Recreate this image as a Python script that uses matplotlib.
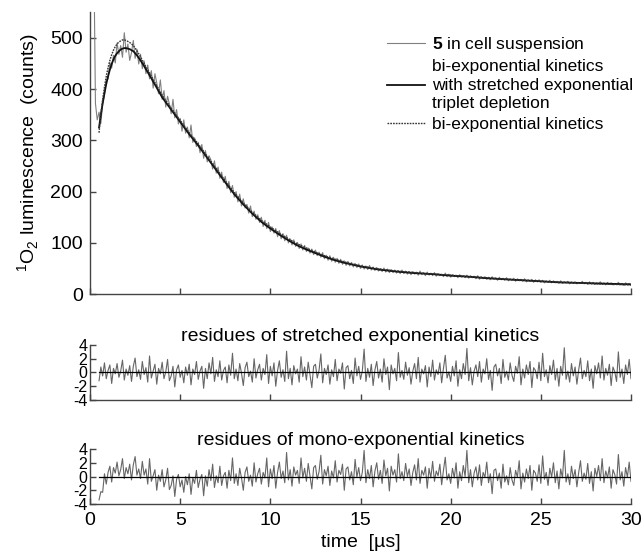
import numpy as np
import matplotlib
matplotlib.use("Agg")
import matplotlib.pyplot as plt

plt.rcParams['font.family'] = ['Liberation Sans', 'DejaVu Sans']
plt.rcParams['mathtext.fontset'] = 'custom'
plt.rcParams['mathtext.rm'] = 'Liberation Sans'
plt.rcParams['mathtext.bf'] = 'Liberation Sans:bold'
plt.rcParams['axes.unicode_minus'] = False

# measured luminescence, 0.1 us steps starting at 0.2 us
data_t0 = 0.2
data_dt = 0.1
counts = [
    700, 372, 340, 355, 333, 372,
    388, 418, 420, 452, 441, 466, 451, 490, 468, 485,
    462, 510, 472, 488, 456, 471, 495, 460, 478, 449,
    468, 440, 455, 430, 447, 420, 436, 402, 430, 412,
    391, 418, 380, 397, 365, 386, 371, 352, 380, 344,
    360, 332, 343, 318, 340, 314, 326, 305, 330, 296,
    305, 288, 296, 276, 292, 265, 280, 258, 270, 262,
    244, 260, 236, 248, 226, 238, 218, 230, 206, 220,
    198, 212, 189, 200, 180, 195, 172, 186, 168, 175,
    158, 172, 151, 162, 146, 155, 140, 150, 132, 144,
    128, 140, 122, 131, 119, 128, 112, 124, 108, 118,
    104, 115, 100, 108, 96, 106, 93, 101, 89, 98,
    86, 95, 83, 90, 80, 88, 77, 86, 75, 82,
    72, 81, 69, 76, 66, 75, 64, 72, 62, 70,
    60, 68, 58, 65, 56, 64, 55, 62, 53, 60,
    52, 59, 50, 57, 49, 55, 48, 56, 47, 53,
    46, 52, 45, 50, 44, 51, 43, 49, 42, 48,
    42, 47, 41, 46, 40, 47, 40, 45, 39, 44,
    38, 44, 39, 43, 37, 45, 38, 42, 36, 43,
    37, 41, 36, 42, 35, 40, 36, 39, 34, 41,
    34, 39, 33, 38, 34, 37, 32, 38, 33, 36,
    32, 37, 31, 36, 32, 35, 30, 36, 29, 34,
    30, 34, 29, 33, 28, 34, 29, 32, 27, 33,
    28, 31, 27, 32, 26, 30, 27, 31, 25, 30,
    26, 29, 25, 30, 24, 28, 25, 29, 23, 28,
    24, 28, 23, 27, 22, 26, 23, 27, 22, 26,
    22, 25, 21, 26, 21, 24, 22, 25, 20, 24,
    21, 24, 20, 23, 21, 25, 20, 23, 19, 24,
    20, 23, 19, 22, 20, 24, 19, 22, 18, 23,
    19, 22, 18, 21, 19, 23, 18, 21, 17, 22,
    19, 21, 18]

# fitted curves
fit_t = [0.5, 0.6, 0.7, 0.8, 0.9, 1.0, 1.1, 1.2, 1.3, 1.4, 1.5, 1.6, 1.7, 1.8, 1.9, 2.0,
         2.2, 2.4, 2.6, 2.8, 3.0,
         3.5, 4.0, 4.5, 5.0, 5.5, 6.0, 6.5, 7.0, 7.5, 8.0, 8.5, 9.0, 9.5, 10.0, 10.5,
         11.0, 11.5, 12.0, 12.5, 13.0, 13.5, 14.0, 14.5, 15.0,
         16, 17, 18, 19, 20, 21, 22, 23, 24, 25, 26, 27, 28, 29, 30]
fit_stretched = [325, 350, 372, 392, 410, 425, 438, 449, 458, 465, 470, 474, 477, 479, 480, 480,
                 478, 474, 466, 456, 445,
                 415, 384, 360, 336, 312, 290, 266, 242, 218, 195, 175, 157, 141, 128, 116,
                 105, 95, 87, 80, 73, 67, 62, 58, 54,
                 48, 44, 41, 39, 36, 34, 31, 29, 27, 25, 23, 22, 21, 20, 19]
fit_biexp = [315, 352, 380, 404, 425, 442, 456, 467, 476, 483, 488, 492, 494, 496, 496, 495,
             491, 485, 475, 463, 450,
             419, 388, 363, 339, 315, 293, 269, 245, 221, 198, 178, 160, 144, 131, 119,
             108, 98, 90, 82, 75, 69, 64, 59, 55,
             49, 45, 42, 39, 37, 34, 32, 29, 27, 25, 23, 22, 20, 19, 18]

# weighted residues, 0.1 us steps starting at 0.5 us
res_t0 = 0.5
res_stretched = [
    -1.2, 0.8, -0.5, 1.4, -0.9, 0.3, 1.1, -1.6, 0.6, -0.2,
    1.3, -0.7, 0.2, 1.8, -1.1, 0.5, -0.4, 1.0, -1.3, 0.9,
    2.1, -0.6, 0.4, -1.0, 1.6, -0.3, 0.7, -1.4, 2.4, -0.8,
    0.2, 1.2, -1.7, 0.6, -0.2, 1.5, -0.9, 0.1, 1.9, -1.2,
    -0.5, 0.9, -2.1, 0.4, 1.1, -0.7, 0.3, -1.5, 0.8, -0.4,
    1.2, -1.8, 0.5, -0.3, 1.6, -1.0, 0.2, 0.9, -2.3, 0.6,
    -0.9, 1.4, -0.2, 2.2, -1.3, 0.4, -0.6, 1.7, -1.1, 0.3,
    0.8, -1.5, 1.1, -0.4, 2.8, -0.9, 0.5, -1.2, 1.3, -0.1,
    -1.9, 0.7, 1.5, -0.6, 0.2, -1.4, 2.0, -0.8, 0.4, 1.2,
    -1.1, 0.6, -0.3, 2.6, -1.6, 0.9, -0.5, 1.4, -2.0, 0.3,
    1.7, -0.7, 0.4, -1.3, 3.1, -0.9, 0.6, -1.8, 1.0, -0.2,
    0.5, -1.4, 2.3, -0.6, 0.8, -1.1, 1.5, -0.4, -2.2, 0.9,
    1.2, -0.8, 0.3, 2.7, -1.5, 0.6, -0.3, 1.1, -1.7, 0.4,
    -0.6, 1.9, -1.2, 0.5, -0.1, 1.4, -2.4, 0.7, 1.0, -0.9,
    0.3, -1.6, 2.1, -0.5, 0.9, -1.0, 0.2, 3.4, -1.3, 0.6,
    -0.7, 1.2, -1.9, 0.4, 1.6, -0.8, 0.5, -1.4, 2.0, -0.3,
    0.8, -2.5, 1.1, -0.2, 0.6, -1.2, 2.9, -0.7, 0.3, -1.0,
    1.5, -0.4, 0.7, -1.7, 0.2, 1.3, -0.9, 2.2, -1.4, 0.5,
    -0.2, 1.0, -2.1, 0.8, -0.6, 1.8, -1.1, 0.4, -0.3, 1.4,
    -1.5, 0.6, 2.5, -0.8, 0.1, -1.3, 0.9, -0.5, 1.7, -2.0,
    0.4, -0.9, 1.3, -0.3, 3.5, -1.2, 0.7, -1.8, 0.2, 1.1,
    -0.6, 1.6, -1.4, 0.5, -0.2, 2.0, -1.0, 0.3, -2.6, 0.8,
    1.2, -0.5, 0.6, -1.6, 1.9, -0.7, 0.2, -1.1, 1.4, -0.4,
    -1.3, 0.9, -0.1, 2.3, -1.8, 0.5, -0.8, 1.1, -0.3, 1.6,
    -2.2, 0.7, 0.3, -0.9, 1.5, -1.2, 2.8, -0.6, 0.4, -1.5,
    1.0, -0.3, 1.8, -1.1, 0.6, -2.0, 0.9, -0.4, 3.6, -1.0,
    0.2, -1.4, 1.3, -0.5, 0.8, -1.7, 0.4, 2.1, -0.9, 0.3,
    -0.6, 1.7, -1.2, 0.5, -2.3, 1.0, -0.2, 1.4, -0.8, 2.4,
    -1.1, 0.6, -0.4, 1.2, -1.9, 0.8, 0.1, -1.3, 3.0, -0.7,
    0.5, -1.6, 1.1, -0.3, 1.9, -0.9]
res_mono = [
    -3.4, -2.2, -2.3, 0.4, -1.1, 0.6, 1.5, -0.8, 1.3, 0.5,
    2.1, 0.1, 1.0, 2.6, -0.3, 1.3, 0.4, 1.8, -0.5, 1.7,
    2.9, 0.2, 1.1, -0.3, 2.2, 0.2, 1.1, -1.1, 2.6, -0.7,
    0.1, 1.0, -2.0, 0.2, -0.7, 1.0, -1.5, -0.5, 1.2, -1.9,
    -1.3, 0.1, -2.9, -0.4, 0.3, -1.5, -0.5, -2.3, 0.0, -1.2,
    0.4, -2.6, -0.2, -1.0, 0.9, -1.6, -0.4, 0.3, -2.8, 0.1,
    -1.4, 1.0, -0.6, 1.8, -1.6, 0.1, -0.9, 1.5, -1.3, 0.1,
    0.6, -1.7, 0.9, -0.6, 2.7, -1.0, 0.4, -1.3, 1.2, -0.2,
    -2.0, 0.6, 1.4, -0.7, 0.2, -1.4, 2.0, -0.8, 0.4, 1.2,
    -1.1, 0.6, -0.2, 2.7, -1.5, 1.1, -0.3, 1.6, -1.7, 0.6,
    2.1, -0.3, 0.8, -0.9, 3.5, -0.5, 1.0, -1.4, 1.4, 0.2,
    0.9, -1.0, 2.7, -0.2, 1.2, -0.7, 1.9, 0.0, -1.8, 1.3,
    1.6, -0.4, 0.7, 3.1, -1.1, 1.0, 0.1, 1.5, -1.3, 0.8,
    -0.2, 2.3, -0.8, 0.9, 0.3, 1.8, -2.0, 1.1, 1.4, -0.5,
    0.7, -1.2, 2.5, -0.1, 1.3, -0.6, 0.6, 3.8, -0.9, 1.0,
    -0.3, 1.6, -1.5, 0.8, 2.0, -0.4, 0.9, -1.0, 2.4, 0.1,
    1.2, -2.1, 1.5, 0.2, 1.0, -0.8, 3.3, -0.3, 0.7, -0.6,
    1.9, 0.0, 1.1, -1.3, 0.6, 1.7, -0.5, 2.6, -1.0, 0.9,
    0.2, 1.4, -1.7, 1.2, -0.2, 2.2, -0.7, 0.8, 0.1, 1.8,
    -1.2, 0.9, 2.8, -0.5, 0.4, -1.0, 1.2, -0.2, 2.0, -1.7,
    0.7, -0.6, 1.6, 0.0, 3.8, -0.9, 1.0, -1.5, 0.5, 1.4,
    -0.5, 1.7, -1.3, 0.6, -0.1, 2.1, -0.9, 0.4, -2.5, 0.9,
    1.1, -0.6, 0.5, -1.7, 1.8, -0.8, 0.1, -1.2, 1.3, -0.5,
    -1.3, 0.9, -0.1, 2.3, -1.8, 0.5, -0.8, 1.1, -0.3, 1.6,
    -2.0, 0.9, 0.5, -0.7, 1.7, -1.0, 3.0, -0.4, 0.6, -1.3,
    1.2, -0.1, 2.0, -0.9, 0.8, -1.8, 1.1, -0.2, 3.8, -0.8,
    0.4, -1.2, 1.5, -0.3, 1.0, -1.5, 0.6, 2.3, -0.7, 0.5,
    -0.4, 1.9, -1.0, 0.7, -2.1, 1.2, 0.0, 1.6, -0.6, 2.6,
    -0.9, 0.8, -0.2, 1.4, -1.7, 1.0, 0.3, -1.1, 3.2, -0.5,
    0.7, -1.4, 1.3, -0.1, 2.1, -0.7]

data_t = data_t0 + data_dt * np.arange(len(counts))
res_t = res_t0 + data_dt * np.arange(len(res_stretched))

spine_col = '#444444'
fs = 14
fig = plt.figure(figsize=(6.44, 5.56), dpi=100)
left, width = 0.1398, 0.840
ax = fig.add_axes([left, 0.471, width, 0.507])
ax1 = fig.add_axes([left, 0.2806, width, 0.0989])
ax2 = fig.add_axes([left, 0.0935, width, 0.0989])

ax.plot(data_t, counts, color='#808080', lw=0.8, label=r'$\mathbf{5}$ in cell suspension')
ax.plot(fit_t, fit_stretched, color='#111111', lw=1.3,
        label='bi-exponential kinetics\nwith stretched exponential\ntriplet depletion')
ax.plot(fit_t, fit_biexp, color='#333333', lw=1.0, ls=(0, (1.2, 0.8)),
        label='bi-exponential kinetics')
ax.set_ylim(0, 550)
ax.set_yticks([0, 100, 200, 300, 400, 500])
ax.set_ylabel(r'$^{1}$O$_{2}$ luminescence  (counts)', fontsize=fs, labelpad=6)
leg = ax.legend(loc='upper left', bbox_to_anchor=(0.52, 0.975), frameon=False,
                fontsize=12.5, handlelength=2.2, handletextpad=0.4, labelspacing=0.3)
for txt in leg.get_texts():
    txt.set_linespacing(1.3)

ax1.plot(res_t, res_stretched, color='#666666', lw=0.8)
ax1.set_title('residues of stretched exponential kinetics', fontsize=fs, pad=3)
ax2.plot(res_t, res_mono, color='#666666', lw=0.8)
ax2.set_title('residues of mono-exponential kinetics', fontsize=fs, pad=3)
for a in (ax1, ax2):
    a.plot([res_t[0], res_t[-1]], [0, 0], color='black', lw=0.9)
    a.set_ylim(-4, 4)
    a.set_yticks([-4, -2, 0, 2, 4])
    a.tick_params(axis='y', pad=2, labelsize=11.5)

for a in (ax, ax1, ax2):
    a.set_xlim(0, 30)
    a.set_xticks([0, 5, 10, 15, 20, 25, 30])
    for s in ('top', 'right'):
        a.spines[s].set_visible(False)
    for s in ('left', 'bottom'):
        a.spines[s].set_color(spine_col)
        a.spines[s].set_linewidth(1.0)
    a.tick_params(direction='in', length=4, width=1, color=spine_col)
    a.tick_params(axis='x', labelsize=fs)
ax.tick_params(axis='y', pad=5, labelsize=fs)
ax.tick_params(axis='x', labelbottom=False)
ax1.tick_params(axis='x', labelbottom=False)
ax2.tick_params(axis='x', pad=6)
ax2.set_xlabel('time  [µs]', fontsize=fs, labelpad=3)

fig.savefig('out.png', dpi=100)
